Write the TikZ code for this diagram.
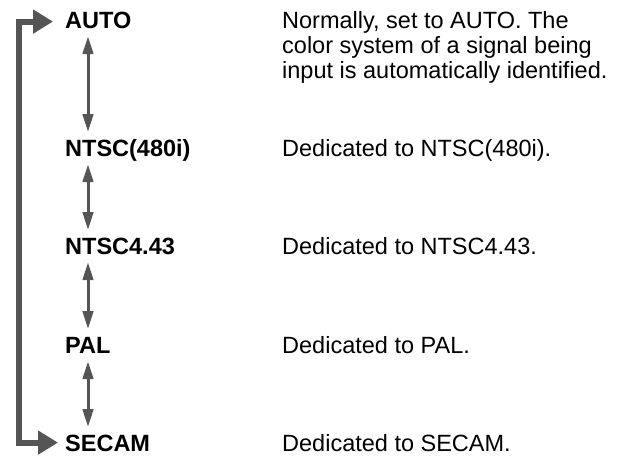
\documentclass[tikz,border=0pt]{standalone}
\usepackage{fontspec}
\setmainfont{Liberation Sans}
\usetikzlibrary{arrows.meta}
\definecolor{arrowgray}{HTML}{555555}
\tikzset{
  mode/.style={anchor=base west, inner sep=0pt, text height=16.8pt, text depth=0pt,
    font=\fontsize{23.5}{25}\selectfont\bfseries},
  desc/.style={anchor=base west, inner sep=0pt, text depth=0pt, font=\fontsize{23.5}{25}\selectfont},
  dbl/.style={draw=arrowgray, line width=3pt,
    {Triangle[width=10.5pt,length=18pt]}-{Triangle[width=10.5pt,length=18pt]},
    shorten <=8pt, shorten >=7pt},
  loopar/.style={draw=arrowgray, line width=6pt, line join=miter,
    {Triangle[width=23pt,length=20pt]}-{Triangle[width=23pt,length=20pt]}}
}
\begin{document}
\begin{tikzpicture}[x=1pt,y=-1pt]
\useasboundingbox (0,0) rectangle (626,455);
\node[mode] (auto)  at (65,28)  {AUTO};
\node[mode] (ntsc)  at (65,156) {NTSC(480i)};
\node[mode] (ntsc4) at (65,254) {NTSC4.43};
\node[mode] (pal)   at (65,353) {PAL};
\node[mode] (secam) at (65,451) {SECAM};

\node[anchor=north west, inner sep=0pt, align=left, font=\fontsize{23.5}{25}\selectfont] (dauto) at (282,11.2)
  {Normally, set to AUTO. The\\color system of a signal being\\input is automatically identified.};
\node[desc] (dntsc)  at (282,156) {Dedicated to NTSC(480i).};
\node[desc] (dntsc4) at (282,254) {Dedicated to NTSC4.43.};
\node[desc] (dpal)   at (282,353) {Dedicated to PAL.};
\node[desc] (dsecam) at (282,451) {Dedicated to SECAM.};

\coordinate (ax) at (88,0);
\coordinate (lx) at (18.5,240);
\draw[dbl] (auto.south -| ax) -- (ntsc.north -| ax);
\draw[dbl] (ntsc.south -| ax) -- (ntsc4.north -| ax);
\draw[dbl] (ntsc4.south -| ax) -- (pal.north -| ax);
\draw[dbl] (pal.south -| ax) -- (secam.north -| ax);
\draw[loopar] ([xshift=-12pt,yshift=-2pt]auto.west) -| (lx) |- ([xshift=-7pt]secam.west);
\end{tikzpicture}
\end{document}
